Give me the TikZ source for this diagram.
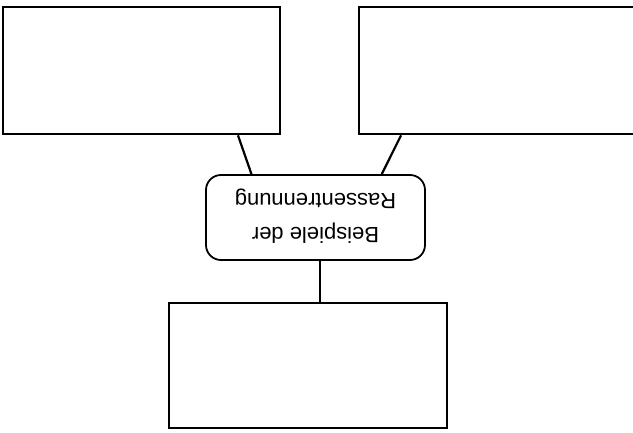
\documentclass[tikz,border=0pt]{standalone}
\usepackage{fontspec}
\setmainfont{Liberation Sans}
\usetikzlibrary{calc}

\begin{document}
\begin{tikzpicture}[x=1pt,y=1pt,
    box/.style={draw,line width=2.6pt,inner sep=0pt},
    link/.style={line width=2.2pt}]
\useasboundingbox (0,0) rectangle (633,432);
\node [box,minimum width=277pt,minimum height=127pt] (left) at (141.5,361.5) {};
\node [box,minimum width=281pt,minimum height=127pt] (right) at (499.5,361.5) {};
\node [box,minimum width=278pt,minimum height=125pt] (bottom) at (308,66.5) {};
\node [draw,line width=1.8pt,rounded corners=15pt,minimum width=219pt,minimum height=85pt,inner sep=0pt] (topic) at (315.5,214.5)
    {\raisebox{2.5pt}{\rotatebox{180}{\fontsize{22}{34}\selectfont
     \begin{tabular}{@{}c@{}}Beispiele der\\Rassentrennung\end{tabular}}}};
\coordinate (tap) at ($(topic.south west)!0.52!(topic.south east)$);
\draw [link] ($(left.south west)!0.845!(left.south east)$) -- ($(topic.north west)!0.21!(topic.north east)$);
\draw [link] ($(right.south west)!0.153!(right.south east)$) -- ($(topic.north west)!0.80!(topic.north east)$);
\draw [link] (tap) -- (tap |- bottom.north);
\end{tikzpicture}
\end{document}
